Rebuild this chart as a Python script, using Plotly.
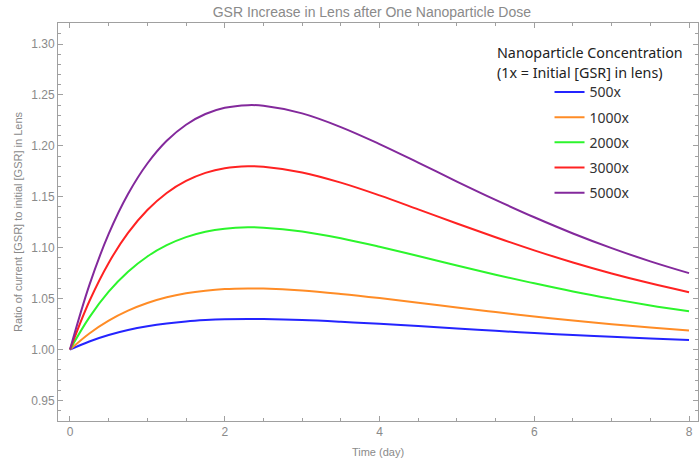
import plotly.graph_objects as go

time_day = [0, 0.25, 0.5, 0.75, 1, 1.25, 1.5, 1.75, 2, 2.3, 2.5, 3, 3.5, 4, 4.5, 5, 5.5, 6, 6.5, 7, 7.5, 8]

ratio_500x = [1.0, 1.0079, 1.0142, 1.0191, 1.0228, 1.0256, 1.0276, 1.0289, 1.0297, 1.0300, 1.0299,
              1.0290, 1.0273, 1.0252, 1.0230, 1.0206, 1.0184, 1.0162, 1.0143, 1.0125, 1.0108, 1.0094]
ratio_1000x = [1.0, 1.0158, 1.0284, 1.0382, 1.0457, 1.0513, 1.0552, 1.0578, 1.0594, 1.0600, 1.0599,
               1.0580, 1.0546, 1.0505, 1.0459, 1.0413, 1.0368, 1.0325, 1.0285, 1.0249, 1.0217, 1.0188]
ratio_2000x = [1.0, 1.0316, 1.0568, 1.0764, 1.0914, 1.1025, 1.1104, 1.1157, 1.1187, 1.1200, 1.1197,
               1.1160, 1.1093, 1.1009, 1.0918, 1.0825, 1.0735, 1.0650, 1.0570, 1.0498, 1.0433, 1.0375]
ratio_3000x = [1.0, 1.0474, 1.0851, 1.1145, 1.1370, 1.1538, 1.1656, 1.1735, 1.1781, 1.1800, 1.1796,
               1.1739, 1.1639, 1.1514, 1.1377, 1.1238, 1.1103, 1.0974, 1.0855, 1.0747, 1.0650, 1.0563]
ratio_5000x = [1.0, 1.0632, 1.1135, 1.1527, 1.1827, 1.2050, 1.2208, 1.2313, 1.2374, 1.2400, 1.2394,
               1.2319, 1.2185, 1.2018, 1.1836, 1.1650, 1.1470, 1.1299, 1.1140, 1.0996, 1.0866, 1.0750]

series_names = ["500x", "1000x", "2000x", "3000x", "5000x"]
series_values = [ratio_500x, ratio_1000x, ratio_2000x, ratio_3000x, ratio_5000x]
series_colors = ["#2424ff", "#ff8c26", "#2cf52c", "#ff2222", "#83299c"]

x_ticks = [0, 2, 4, 6, 8]
y_ticks = [0.95, 1.00, 1.05, 1.10, 1.15, 1.20, 1.25, 1.30]
y_tick_labels = ["0.95", "1.00", "1.05", "1.10", "1.15", "1.20", "1.25", "1.30"]

fig = go.Figure()
for name, vals, col in zip(series_names, series_values, series_colors):
    fig.add_trace(go.Scatter(
        x=time_day, y=vals, mode="lines", name=name, legendgroup=name,
        line=dict(color=col, width=2, shape="spline", smoothing=1.0),
    ))

grey = "#8a8a8a"
axis_common = dict(
    showline=True, linecolor="#a0a0a0", linewidth=1, mirror="allticks",
    ticks="inside", ticklen=5, tickcolor="#a0a0a0", tickwidth=1,
    showgrid=False, zeroline=False, automargin=False,
    tickfont=dict(family="Liberation Sans, Arial", size=12, color=grey),
)

heading_font = dict(family="Noto Sans, Open Sans", size=14.3, color="#222222")

fig.update_layout(
    width=699, height=463,
    margin=dict(l=58, r=1, t=23, b=42, autoexpand=False),
    paper_bgcolor="white", plot_bgcolor="white",
    title=dict(text="GSR Increase in Lens after One Nanoparticle Dose",
               x=0.532, xanchor="center", y=0.974, yanchor="middle",
               font=dict(family="Liberation Sans, Arial", size=14, color=grey)),
    xaxis=dict(range=[-0.155, 8.116], tickvals=x_ticks,
               minor=dict(dtick=0.5, ticks="inside", ticklen=3, tickcolor="#a0a0a0", showgrid=False),
               title=dict(text="Time (day)", standoff=9,
                          font=dict(family="Liberation Sans, Arial", size=11, color=grey)),
               **axis_common),
    yaxis=dict(range=[0.9298, 1.3207], tickvals=y_ticks, ticktext=y_tick_labels,
               minor=dict(dtick=0.01, tick0=0.9, ticks="inside", ticklen=3, tickcolor="#a0a0a0", showgrid=False),
               title=dict(text="Ratio of current [GSR] to initial [GSR] in Lens", standoff=6,
                          font=dict(family="Liberation Sans, Arial", size=11, color=grey)),
               **axis_common),
    showlegend=True,
    legend=dict(x=0.768, xanchor="left", y=0.866, yanchor="top",
                bgcolor="rgba(0,0,0,0)", tracegroupgap=4,
                font=dict(family="Noto Sans, Open Sans", size=14, color="#333333")),
    annotations=[
        dict(text="Nanoparticle Concentration", xref="paper", yref="paper",
             x=0.683, y=1 - (52 - 23) / 398, xanchor="left", yanchor="middle",
             showarrow=False, font=heading_font),
        dict(text="(1x = Initial [GSR] in lens)", xref="paper", yref="paper",
             x=0.683, y=1 - (72 - 23) / 398, xanchor="left", yanchor="middle",
             showarrow=False, font=heading_font),
    ],
)

fig.write_html("out.html", config={"displayModeBar": False},
               post_script="document.body.style.margin='0';")
